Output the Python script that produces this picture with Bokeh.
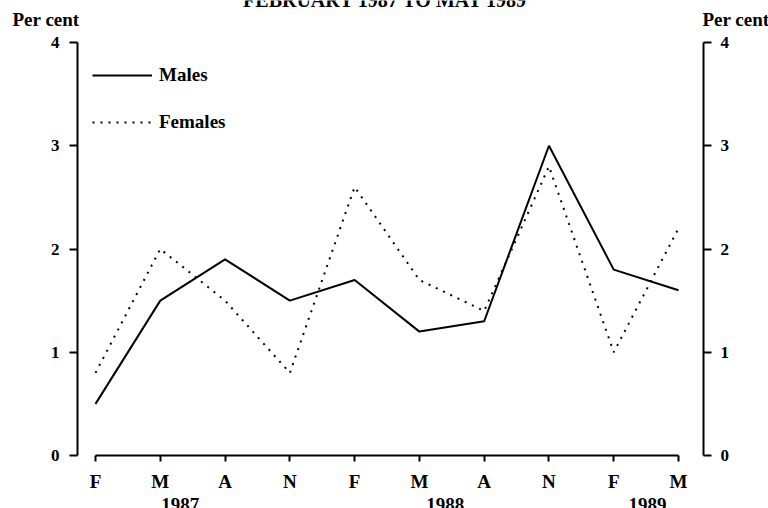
from bokeh.plotting import figure
from bokeh.models import (Range1d, LinearAxis, FixedTicker, Label, Legend, LegendItem)
from bokeh.embed import file_html
from bokeh.resources import INLINE

# ---- data ----
months = ["F", "M", "A", "N", "F", "M", "A", "N", "F", "M"]
males = [0.5, 1.5, 1.9, 1.5, 1.7, 1.2, 1.3, 3.0, 1.8, 1.6]
females = [0.8, 2.0, 1.5, 0.8, 2.6, 1.7, 1.4, 2.8, 1.0, 2.2]
years = ["1987", "1988", "1989"]
year_pos = [1.31, 5.40, 8.52]
y_ticks = [0, 1, 2, 3, 4]
title_text = "FEBRUARY 1987 TO MAY 1989"
unit_text = "Per cent"

FONT = "Liberation Serif"
x = list(range(len(months)))

# frame covers the whole canvas; axes are pinned with fixed_location
X0, X1 = -1.4665, 10.389
Y0, Y1 = -0.5133, 4.4068
XL, XR = -0.278, 9.386   # positions of the two vertical axes

p = figure(width=768, height=508, output_backend="svg", toolbar_location=None,
           x_range=Range1d(X0, X1), y_range=Range1d(Y0, Y1),
           x_axis_type=None, y_axis_type=None)
p.min_border = 0
p.min_border_left = 0
p.min_border_right = 0
p.min_border_top = 0
p.min_border_bottom = 0
p.outline_line_color = None
p.background_fill_color = "white"
p.border_fill_color = "white"


def style_axis(ax, size="19px"):
    ax.axis_line_color = "black"
    ax.axis_line_width = 2
    ax.major_tick_line_color = "black"
    ax.major_tick_line_width = 2
    ax.minor_tick_line_color = None
    ax.major_tick_in = 0
    ax.major_label_text_font = FONT
    ax.major_label_text_font_style = "bold"
    ax.major_label_text_font_size = size
    ax.major_label_text_color = "black"


# x axis with month letters, pinned at y = 0
xax = LinearAxis(ticker=FixedTicker(ticks=x), bounds=(0, len(months) - 1),
                 fixed_location=0)
style_axis(xax)
xax.major_tick_out = 6
xax.major_label_standoff = 9
xax.major_label_overrides = {i: m for i, m in enumerate(months)}
p.add_layout(xax, "below")

# left and right y axes
lax = LinearAxis(ticker=FixedTicker(ticks=y_ticks), bounds=(0, 4), fixed_location=XL)
style_axis(lax, "17px")
lax.major_tick_out = 8
lax.major_label_standoff = 10
p.add_layout(lax, "left")

rax = LinearAxis(ticker=FixedTicker(ticks=y_ticks), bounds=(0, 4), fixed_location=XR)
style_axis(rax, "17px")
rax.major_tick_out = 8
rax.major_label_standoff = 9
p.add_layout(rax, "right")

# series
r_m = p.line(x, males, line_color="black", line_width=2)
r_f = p.line(x, females, line_color="black", line_width=2, line_dash="2 6")

legend = Legend(items=[LegendItem(label="Males", renderers=[r_m]),
                       LegendItem(label="Females", renderers=[r_f])],
                location=(92, 375), orientation="vertical")
legend.glyph_width = 60
legend.glyph_height = 22
legend.label_height = 22
legend.label_standoff = 7
legend.spacing = 25
legend.padding = 0
legend.margin = 0
legend.border_line_color = None
legend.background_fill_alpha = 0
legend.label_text_font = FONT
legend.label_text_font_style = "bold"
legend.label_text_font_size = "19px"
legend.label_text_color = "black"
p.add_layout(legend)


def lab(xv, yv, text, align, size="19px"):
    p.add_layout(Label(x=xv, y=yv, text=text, text_align=align,
                       text_baseline="alphabetic", text_font=FONT,
                       text_font_style="bold", text_font_size=size,
                       text_color="black"))


# year labels under the month letters (cut by the lower edge, as in the source)
for yr, xp in zip(years, year_pos):
    lab(xp, -0.475, yr, "center")

# unit labels above the two vertical axes
lab(-1.281, 4.223, unit_text, "left")
lab(9.37, 4.223, unit_text, "left")

# title, mostly cut by the upper edge
lab(4.477, 4.416, title_text, "center", "20px")

open("out.html", "w").write(file_html(p, INLINE))
